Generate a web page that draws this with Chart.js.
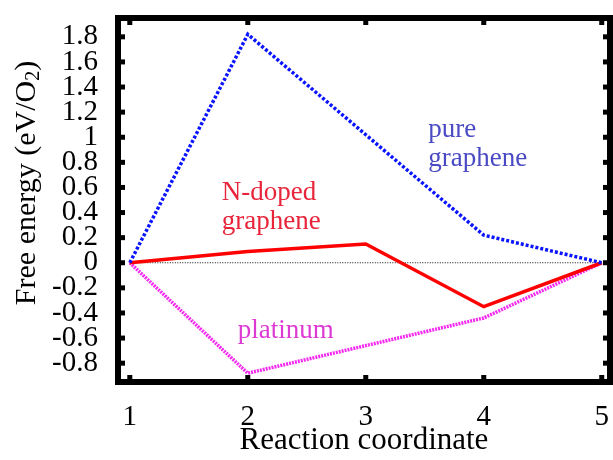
<!DOCTYPE html>
<html><head><meta charset="utf-8">
<script src="https://cdn.jsdelivr.net/npm/chart.js@4"></script>
<style>html,body{margin:0;padding:0;background:#fff}</style>
</head><body>
<canvas id="c" width="613" height="460" style="width:613px;height:460px;display:block"></canvas>
<script>
// ---- data ----
const steps = [1, 2, 3, 4, 5];
const pureGraphene = [0, 1.82, 1.02, 0.22, 0];
const nDopedGraphene = [0, 0.09, 0.15, -0.35, 0];
const platinum = [0, -0.88, -0.66, -0.44, 0];
const zeroLineX = [1, 5];
const zeroLineY = [0, 0];
const xTicks = [1, 2, 3, 4, 5];
const yTicks = [-0.8, -0.6, -0.4, -0.2, 0, 0.2, 0.4, 0.6, 0.8, 1, 1.2, 1.4, 1.6, 1.8];
const xTitle = 'Reaction coordinate';
const yTitleMain = 'Free energy (eV/O';
const yTitleSub = '2';
const yTitleEnd = ')';
const labelTexts = [['N-doped', 'graphene'], ['pure', 'graphene'], ['platinum']];
const labelX = [1.78, 3.53, 1.915];
const labelY = [0.5, 1.0, -0.6];
const labelColors = ['#e8243a', '#4a4ac4', '#dc3ad2'];

const FONT = '"Liberation Serif", "Times New Roman", serif';
const pts = (xs, ys) => xs.map((x, i) => ({x: x, y: ys[i]}));

const framePlugin = {
  id: 'frame',
  afterDraw(chart) {
    const ctx = chart.ctx, a = chart.chartArea;
    const xs = chart.scales.x, ys = chart.scales.y;
    ctx.save();
    ctx.strokeStyle = '#000';
    ctx.lineWidth = 6;
    ctx.strokeRect(a.left, a.top, a.right - a.left, a.bottom - a.top);
    ctx.fillStyle = '#000';
    xTicks.forEach(v => {
      const px = xs.getPixelForValue(v);
      ctx.fillRect(px - 2.5, a.top, 5, 7);
      ctx.fillRect(px - 2.5, a.bottom - 7, 5, 7);
    });
    yTicks.forEach(v => {
      const py = ys.getPixelForValue(v);
      ctx.fillRect(a.left, py - 2.5, 7, 5);
      ctx.fillRect(a.right - 7, py - 2.5, 7, 5);
    });
    ctx.translate(27, 183);
    ctx.rotate(-Math.PI / 2);
    ctx.fillStyle = '#000';
    ctx.textBaseline = 'middle';
    ctx.textAlign = 'left';
    ctx.font = '30px ' + FONT;
    const w1 = ctx.measureText(yTitleMain).width;
    const w3 = ctx.measureText(yTitleEnd).width;
    ctx.font = '20px ' + FONT;
    const w2 = ctx.measureText(yTitleSub).width;
    let sx = -(w1 + w2 + w3) / 2;
    ctx.font = '30px ' + FONT;
    ctx.fillText(yTitleMain, sx, 0);
    ctx.font = '20px ' + FONT;
    ctx.fillText(yTitleSub, sx + w1, 7);
    ctx.font = '30px ' + FONT;
    ctx.fillText(yTitleEnd, sx + w1 + w2, 0);
    ctx.restore();
    ctx.save();
    ctx.font = '27px ' + FONT;
    ctx.textBaseline = 'alphabetic';
    ctx.textAlign = 'left';
    labelTexts.forEach((lines, i) => {
      ctx.fillStyle = labelColors[i];
      const px = xs.getPixelForValue(labelX[i]);
      const py = ys.getPixelForValue(labelY[i]);
      lines.forEach((t, j) => ctx.fillText(t, px, py + j * 29));
    });
    ctx.restore();
  }
};

new Chart(document.getElementById('c'), {
  type: 'line',
  data: {
    datasets: [
      {label: 'zero', data: pts(zeroLineX, zeroLineY), borderColor: '#111', borderWidth: 1.2, borderDash: [1, 1.5], pointRadius: 0, order: 4},
      {label: 'platinum', data: pts(steps, platinum), borderColor: '#f528f0', borderWidth: 3.5, borderDash: [2, 1], pointRadius: 0, order: 3},
      {label: 'N-doped graphene', data: pts(steps, nDopedGraphene), borderColor: '#ff0000', borderWidth: 3.5, pointRadius: 0, order: 2},
      {label: 'pure graphene', data: pts(steps, pureGraphene), borderColor: '#0a14ff', borderWidth: 3.5, borderDash: [3, 2], pointRadius: 0, order: 1}
    ]
  },
  options: {
    responsive: false,
    devicePixelRatio: 1,
    animation: false,
    events: [],
    layout: {padding: {top: 18, right: 3, left: 0, bottom: 0}},
    plugins: {legend: {display: false}, tooltip: {enabled: false}},
    elements: {line: {tension: 0, fill: false}},
    scales: {
      x: {
        type: 'linear', min: 0.9, max: 5.07,
        grid: {display: false, drawTicks: false},
        border: {display: false},
        afterBuildTicks: s => { s.ticks = xTicks.map(v => ({value: v})); },
        afterFit: s => { s.height = 78; s.paddingLeft = 0; s.paddingRight = 0; },
        ticks: {color: '#000', font: {family: FONT, size: 29}, padding: 18, maxRotation: 0, autoSkip: false,
          callback: v => String(v)},
        title: {display: true, text: xTitle, color: '#000', font: {family: FONT, size: 31}, padding: {top: 0, bottom: 1}}
      },
      y: {
        type: 'linear', min: -0.95, max: 1.95,
        grid: {display: false, drawTicks: false},
        border: {display: false},
        afterBuildTicks: s => { s.ticks = yTicks.map(v => ({value: v})); },
        afterFit: s => { s.width = 118; s.paddingTop = 0; s.paddingBottom = 0; },
        ticks: {color: '#000', font: {family: FONT, size: 29, lineHeight: 1}, padding: 20, autoSkip: false,
          callback: v => String(Math.round(v * 10) / 10)}
      }
    }
  },
  plugins: [framePlugin]
});
</script>
</body></html>
